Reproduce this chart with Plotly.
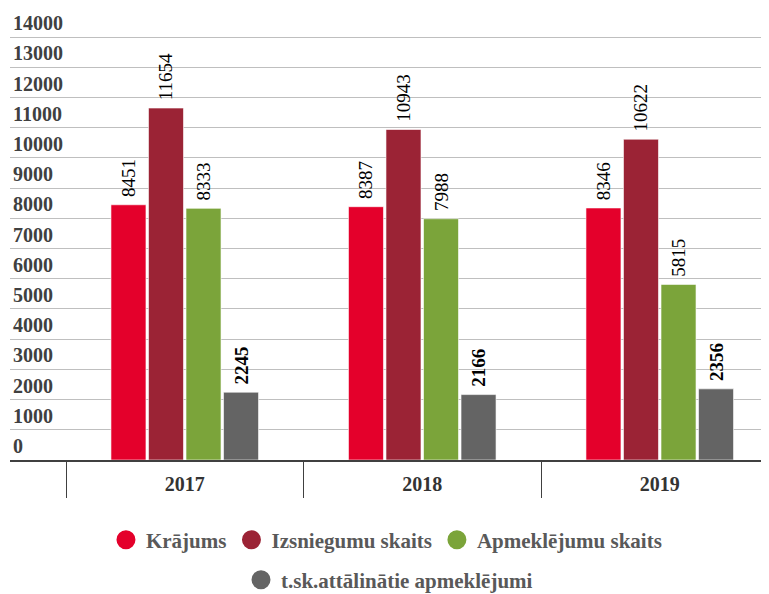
import plotly.graph_objects as go

years = ["2017", "2018", "2019"]
series_names = ["Krājums", "Izsniegumu skaits", "Apmeklējumu skaits", "t.sk.attālinātie apmeklējumi"]
krajums = [8451, 8387, 8346]
izsniegumi = [11654, 10943, 10622]
apmeklejumi = [8333, 7988, 5815]
attalinati = [2245, 2166, 2356]
y_ticks = list(range(0, 14001, 1000))
y_tick_text = [str(v) for v in y_ticks]

colors = ["#E4002B", "#9B2335", "#7BA43A", "#646464"]
series = [krajums, izsniegumi, apmeklejumi, attalinati]
label_bold = ["normal", "normal", "normal", "bold"]

x_pos = list(range(len(years)))

fig = go.Figure()
for name, vals, col, wt in zip(series_names, series, colors, label_bold):
    fig.add_trace(go.Bar(
        x=x_pos, y=vals, name=name,
        marker=dict(color=col, line=dict(color="rgba(255,255,255,0.6)", width=1)),
        text=[f" {v}" for v in vals],
        textposition="outside", textangle=-90, constraintext="none",
        textfont=dict(family="Liberation Serif", size=19, color="#000000", weight=wt),
        cliponaxis=False, showlegend=False, hoverinfo="skip",
    ))

# legend entries with circle markers
for i, (name, col) in enumerate(zip(series_names, colors)):
    fig.add_trace(go.Scatter(
        x=[None], y=[None], mode="markers", name=f"<b>{name}</b>",
        marker=dict(symbol="circle", size=16, color=col, line=dict(color=col, width=3)),
        legend="legend" if i < 3 else "legend2",
    ))

serif = "Liberation Serif"
legend_font = dict(family=serif, size=21, color="#595959")

# page body has an 8px margin, so the figure is offset by 8px right/down
fig.update_layout(
    width=761, height=586,
    font=dict(family=serif),
    margin=dict(l=2, r=0, t=2, b=134, autoexpand=False),
    paper_bgcolor="white", plot_bgcolor="white",
    barmode="group", bargap=0.368, bargroupgap=0.067,
    xaxis=dict(
        range=[-0.7358, 2.46], automargin=False,
        tickvals=x_pos, ticktext=years, ticks="",
        showline=True, linecolor="#404040", linewidth=1.5,
        showgrid=False, zeroline=False,
        tickfont=dict(family=serif, size=20, color="#333333", weight="bold"),
        ticklabelstandoff=5,
        minor=dict(tickvals=[-0.5, 0.5, 1.5], ticks="outside", ticklen=36,
                   tickcolor="#404040", tickwidth=1, showgrid=False),
    ),
    yaxis=dict(
        range=[0, 14900], automargin=False,
        tickvals=y_ticks, ticktext=y_tick_text,
        showgrid=True, gridcolor="#BFBFBF", gridwidth=1,
        zeroline=False, ticks="",
        ticklabelposition="inside top",
        tickfont=dict(family=serif, size=20, color="#404040", weight="bold"),
    ),
    legend=dict(orientation="h", x=0.496, xanchor="center", y=-0.178, yanchor="middle",
                font=legend_font, itemsizing="trace", bgcolor="rgba(0,0,0,0)"),
    legend2=dict(orientation="h", x=0.5, xanchor="center", y=-0.2667, yanchor="middle",
                 font=legend_font, itemsizing="trace", bgcolor="rgba(0,0,0,0)"),
)

fig.write_html("out.html")
